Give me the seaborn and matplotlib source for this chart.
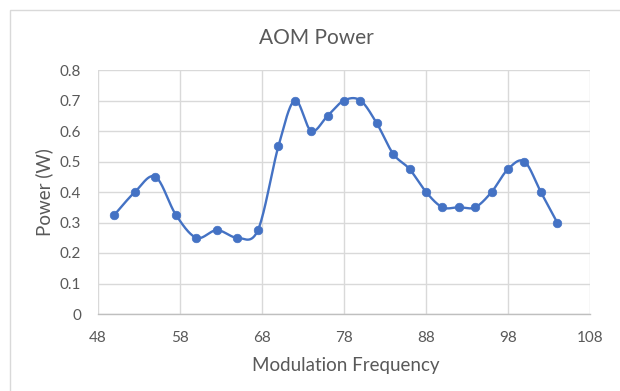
import numpy as np
import pandas as pd
import matplotlib
matplotlib.use("Agg")
import matplotlib.pyplot as plt
import seaborn as sns

freq = [50, 52.5, 55, 57.5, 60, 62.5, 65, 67.5, 70, 72, 74, 76, 78, 80, 82, 84,
        86, 88, 90, 92, 94, 96, 98, 100, 102, 104]
power = [0.325, 0.4, 0.45, 0.325, 0.25, 0.275, 0.25, 0.275, 0.55, 0.7, 0.6, 0.65,
         0.7, 0.7, 0.625, 0.525, 0.475, 0.4, 0.35, 0.35, 0.35, 0.4, 0.475, 0.5,
         0.4, 0.3]
x_ticks = [48, 58, 68, 78, 88, 98, 108]
y_ticks = [0, 0.1, 0.2, 0.3, 0.4, 0.5, 0.6, 0.7, 0.8]

sns.set_theme(style="white")
plt.rcParams['font.family'] = ['Lato', 'DejaVu Sans']

BLUE = "#4472C4"
GRID = "#D9D9D9"
TXT = "#595959"


def smooth(xs, ys, n=30):
    # Excel-like smoothed line: cubic Bezier through points (Catmull-Rom style)
    P = np.column_stack([xs, ys]).astype(float)
    out = []
    for i in range(len(P) - 1):
        p0 = P[i - 1] if i > 0 else P[i]
        p1 = P[i]
        p2 = P[i + 1]
        p3 = P[i + 2] if i + 2 < len(P) else P[i + 1]
        c1 = p1 + (p2 - p0) / 6.0
        c2 = p2 - (p3 - p1) / 6.0
        t = np.linspace(0, 1, n, endpoint=False)[:, None]
        seg = ((1 - t) ** 3) * p1 + 3 * ((1 - t) ** 2) * t * c1 + 3 * (1 - t) * t ** 2 * c2 + t ** 3 * p2
        out.append(seg)
    out.append(P[-1:])
    return np.vstack(out)


df = pd.DataFrame({"freq": freq, "power": power})
curve = smooth(freq, power)

fig = plt.figure(figsize=(6.2, 3.91), dpi=100)
L, R, T, B = 98, 590, 70, 314
ax = fig.add_axes([L / 620, 1 - B / 391, (R - L) / 620, (B - T) / 391])

ax.plot(curve[:, 0], curve[:, 1], color=BLUE, lw=1.7, zorder=3, solid_capstyle="round")
sns.scatterplot(data=df, x="freq", y="power", ax=ax, color=BLUE, s=38,
                edgecolor=BLUE, linewidth=0.5, zorder=4)

ax.set_xlim(48, 108)
ax.set_ylim(0, 0.8)
ax.set_xticks(x_ticks)
ax.set_xticklabels([str(v) for v in x_ticks])
ax.set_yticks(y_ticks)
ax.set_yticklabels(["0"] + [f"{v:.1f}" for v in y_ticks[1:]])
ax.grid(True, color=GRID, lw=1.0)
ax.set_axisbelow(True)
for s in ["top", "right", "left"]:
    ax.spines[s].set_visible(False)
ax.spines["bottom"].set_color("#BFBFBF")
ax.spines["bottom"].set_linewidth(1.0)
ax.tick_params(axis="both", length=0, labelsize=11, colors=TXT)
ax.tick_params(axis="x", pad=12)
ax.tick_params(axis="y", pad=12)

ax.set_xlabel("Modulation Frequency", fontsize=13.5, color=TXT, va="center")
ax.xaxis.set_label_coords((346 - L) / (R - L), (B - 366) / (B - T))
ax.set_ylabel("Power (W)", fontsize=13.5, color=TXT, va="center")
ax.yaxis.set_label_coords((44 - L) / (R - L), (B - 192) / (B - T))
fig.text(316 / 620, 1 - 38 / 391, "AOM Power", ha="center", va="center",
         fontsize=15, color=TXT)

# chart border
fig.patches.append(plt.Rectangle((10 / 620, -0.01), 0.99, 1 - 10 / 391 + 0.01,
                                 transform=fig.transFigure, fill=False,
                                 edgecolor="#D9D9D9", lw=1.0))

fig.savefig("out.png", dpi=100, facecolor="white")
